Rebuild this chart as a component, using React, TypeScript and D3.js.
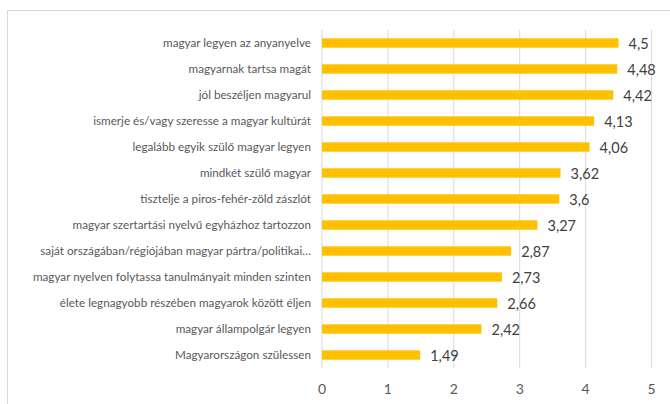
import React from "react";
import * as d3 from "d3";

const categories: string[] = [
  "magyar legyen az anyanyelve",
  "magyarnak tartsa magát",
  "jól beszéljen magyarul",
  "ismerje és/vagy szeresse a magyar kultúrát",
  "legalább egyik szülő magyar legyen",
  "mindkét szülő magyar",
  "tisztelje a piros-fehér-zöld zászlót",
  "magyar szertartási nyelvű egyházhoz tartozzon",
  "saját országában/régiójában magyar pártra/politikai…",
  "magyar nyelven folytassa tanulmányait minden szinten",
  "élete legnagyobb részében magyarok között éljen",
  "magyar állampolgár legyen",
  "Magyarországon szülessen",
];
const values: number[] = [4.5, 4.48, 4.42, 4.13, 4.06, 3.62, 3.6, 3.27, 2.87, 2.73, 2.66, 2.42, 1.49];
const valueLabels: string[] = ["4,5", "4,48", "4,42", "4,13", "4,06", "3,62", "3,6", "3,27", "2,87", "2,73", "2,66", "2,42", "1,49"];
const ticks: number[] = [0, 1, 2, 3, 4, 5];

export default function App() {
  const W = 670;
  const H = 404;
  const x = d3.scaleLinear().domain([0, 5]).range([322, 651.5]);
  const y = d3.scaleBand<string>().domain(categories).range([30, 368]).paddingInner(0.64).paddingOuter(0.32);
  const font = "Lato, 'Open Sans', sans-serif";
  return (
    <svg width={W} height={H} style={{ position: "absolute", left: 0, top: 0, display: "block" }}>
      <rect x={0} y={0} width={W} height={H} fill="#ffffff" />
      <rect x={7.5} y={10.5} width={W + 20} height={H + 20} fill="#ffffff" stroke="#d9d9d9" strokeWidth={1} />
      {ticks.map((t) => (
        <line key={"g" + t} x1={x(t)} x2={x(t)} y1={30} y2={368} stroke="#d9d9d9" strokeWidth={1} />
      ))}
      {categories.map((c, i) => (
        <g key={c}>
          <rect x={x(0)} y={y(c)!} width={x(values[i]) - x(0)} height={y.bandwidth()} fill="#FFC000" />
          <text
            x={311}
            y={y(c)! + y.bandwidth() / 2}
            dy="0.35em"
            textAnchor="end"
            fontFamily={font}
            fontSize={11.7}
            fill="#595959"
          >
            {c}
          </text>
          <text
            x={x(values[i]) + 10}
            y={y(c)! + y.bandwidth() / 2 + 1}
            dy="0.35em"
            fontFamily={font}
            fontSize={14.5}
            fill="#404040"
          >
            {valueLabels[i]}
          </text>
        </g>
      ))}
      {ticks.map((t) => (
        <text
          key={"t" + t}
          x={x(t)}
          y={389}
          dy="0.35em"
          textAnchor="middle"
          fontFamily={font}
          fontSize={14}
          fill="#595959"
        >
          {String(t)}
        </text>
      ))}
    </svg>
  );
}
